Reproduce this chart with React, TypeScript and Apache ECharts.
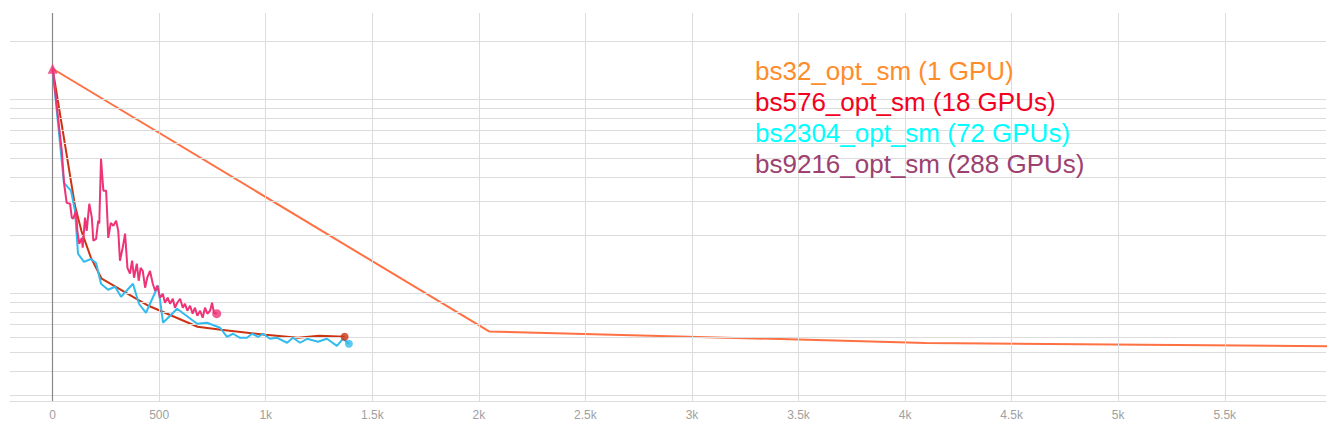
import React, { useEffect, useRef } from "react";
import * as echarts from "echarts";

// ---- Data (step, loss) ----
const bs32Steps = [0, 2048, 4096, 6144];
const bs32Loss = [14.45, 0.639, 0.558, 0.535];

const bs576Steps = [0, 105, 135, 180, 230, 450, 680, 790, 1000, 1150, 1250, 1370];
const bs576Loss = [14.45, 2.84, 2.11, 1.53, 1.195, 0.867, 0.676, 0.652, 0.615, 0.593, 0.608, 0.6];

const bs2304Steps = [0, 53, 86, 105, 119, 147, 180, 204, 227, 260, 293, 321, 377, 405, 438, 495, 518, 584, 678, 724, 786, 818, 847, 879, 912, 936, 964, 987, 1020, 1053, 1100, 1128, 1161, 1194, 1245, 1287, 1334, 1362, 1390];
const bs2304Loss = [14.45, 3.73, 3.4, 2.68, 1.61, 1.46, 1.51, 1.44, 1.126, 1.049, 1.087, 0.965, 1.126, 0.888, 0.798, 1.1, 0.709, 0.837, 0.7, 0.709, 0.668, 0.6, 0.622, 0.593, 0.593, 0.622, 0.6, 0.622, 0.586, 0.593, 0.559, 0.593, 0.559, 0.586, 0.566, 0.586, 0.539, 0.586, 0.552];

const bs9216Steps = [0, 35, 43, 54, 66, 82, 90, 97, 110, 116, 125, 137, 141, 152, 160, 172, 184, 191, 204, 214, 219, 227, 238, 251, 261, 273, 285, 298, 308, 316, 329, 340, 351, 363, 373, 382, 395, 404, 413, 423, 434, 444, 457, 470, 481, 491, 504, 517, 527, 540, 551, 564, 574, 585, 598, 611, 621, 632, 645, 657, 668, 679, 692, 704, 715, 726, 739, 748, 757, 770];
const bs9216Loss = [14.45, 6.52, 5.46, 3.69, 2.94, 2.91, 2.47, 2.44, 2.68, 2.11, 1.81, 1.94, 1.73, 2.47, 2.11, 2.91, 2.47, 1.88, 1.92, 2.38, 2.3, 4.96, 3.4, 3.4, 1.94, 2.32, 2.24, 2.38, 2.11, 1.48, 1.73, 2.04, 1.36, 1.27, 1.48, 1.21, 1.43, 1.167, 1.36, 1.31, 1.074, 1.21, 1.31, 1.126, 1.036, 1.1, 0.954, 1.0, 0.899, 0.954, 0.888, 0.942, 0.847, 0.899, 0.942, 0.847, 0.888, 0.817, 0.867, 0.789, 0.847, 0.77, 0.817, 0.752, 0.847, 0.789, 0.817, 0.899, 0.798, 0.789];

const legendLabels = [
  "bs32_opt_sm (1 GPU)",
  "bs576_opt_sm (18 GPUs)",
  "bs2304_opt_sm (72 GPUs)",
  "bs9216_opt_sm (288 GPUs)",
];
const legendColors = ["#ff8c2a", "#f50020", "#00ffff", "#9c4170"];

// grid line positions (axis values)
const yGridValues = [0.3, 0.4, 0.5, 0.6, 0.7, 0.8, 0.9, 1, 2, 3, 4, 5, 6, 7, 8, 9, 10, 20];
const xGridValues = [500, 1000, 1500, 2000, 2500, 3000, 3500, 4000, 4500, 5000, 5500];

const pair = (xs: number[], ys: number[]) => xs.map((x, i) => [x, ys[i]]);
const last = (xs: number[], ys: number[]) => [[xs[xs.length - 1], ys[ys.length - 1]]];

export default function App() {
  const ref = useRef<HTMLDivElement>(null);

  useEffect(() => {
    if (!ref.current) return;
    const chart = echarts.init(ref.current, undefined, { renderer: "svg" });
    const lineSeries = (name: string, xs: number[], ys: number[], color: string, z: number) => ({
      type: "line",
      name,
      data: pair(xs, ys),
      showSymbol: false,
      symbol: "none",
      clip: true,
      z,
      lineStyle: { color, width: 2 },
      itemStyle: { color },
    });
    const option: any = {
      animation: false,
      grid: { left: 10, right: 15, top: 13, bottom: 25 },
      xAxis: {
        type: "value",
        min: -200,
        max: 5975,
        splitNumber: 12,
        axisLine: { show: true, onZero: false, lineStyle: { color: "#dcdcdc", width: 1 } },
        axisTick: { show: false },
        splitLine: { show: false },
        axisLabel: {
          color: "#a0a0a0",
          fontSize: 12,
          fontFamily: "Liberation Sans",
          margin: 8,
          formatter: (v: number) => {
            if (Math.abs(v % 500) > 1e-6) return "";
            if (v === 0) return "0";
            return v >= 1000 ? v / 1000 + "k" : String(v);
          },
        },
      },
      yAxis: {
        type: "log",
        min: 0.28,
        max: 28,
        axisLine: { show: false },
        axisTick: { show: false },
        axisLabel: { show: false },
        splitLine: { show: false },
      },
      graphic: legendLabels.map((t, i) => ({
        type: "text",
        left: 755,
        top: 58 + i * 31,
        z: 100,
        zlevel: 0,
        silent: true,
        style: {
          text: t,
          fill: legendColors[i],
          font: '26px "Liberation Sans"',
        },
      })),
      series: [
        {
          type: "line",
          name: "gridlines",
          data: [],
          z: 1,
          silent: true,
          markLine: {
            silent: true,
            symbol: ["none", "none"],
            label: { show: false },
            lineStyle: { color: "#dcdcdc", width: 1, type: "solid" },
            data: [
              ...yGridValues.map((v) => ({ yAxis: v })),
              ...xGridValues.map((v) => ({ xAxis: v })),
              { xAxis: 0, lineStyle: { color: "#888888", width: 1.2, type: "solid" } },
            ],
          },
        },
        lineSeries(legendLabels[0], bs32Steps, bs32Loss, "#ff7043", 3),
        lineSeries(legendLabels[1], bs576Steps, bs576Loss, "#cc3311", 4),
        lineSeries(legendLabels[2], bs2304Steps, bs2304Loss, "#33bbee", 5),
        lineSeries(legendLabels[3], bs9216Steps, bs9216Loss, "#ee3377", 6),
        {
          type: "scatter",
          data: last(bs576Steps, bs576Loss),
          symbol: "circle",
          symbolSize: 8,
          z: 7,
          itemStyle: { color: "#cc3311" },
        },
        {
          type: "scatter",
          data: last(bs2304Steps, bs2304Loss),
          symbol: "circle",
          symbolSize: 8,
          z: 7,
          itemStyle: { color: "#33bbee" },
        },
        {
          type: "scatter",
          data: last(bs9216Steps, bs9216Loss),
          symbol: "circle",
          symbolSize: 9,
          z: 7,
          itemStyle: { color: "#ee3377" },
        },
        {
          type: "scatter",
          data: [[bs9216Steps[0], bs9216Loss[0]]],
          symbol: "triangle",
          symbolSize: [10, 10],
          z: 7,
          itemStyle: { color: "#ee3377" },
        },
      ],
    };
    chart.setOption(option);
    return () => chart.dispose();
  }, []);

  return (
    <div
      ref={ref}
      style={{ position: "fixed", left: 0, top: 0, width: 1341, height: 426, background: "#ffffff" }}
    />
  );
}
